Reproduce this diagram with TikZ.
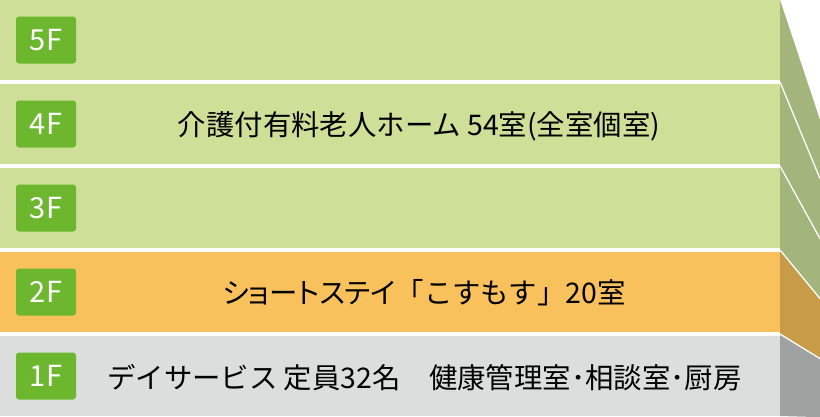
\documentclass[tikz,border=0pt]{standalone}
\usepackage{fontspec}
\newfontfamily\jpfont{Noto Sans CJK JP}
\newfontfamily\jppalt[RawFeature=+palt]{Noto Sans CJK JP}
\usetikzlibrary{calc}

\definecolor{greenfront}{HTML}{CEDF98}
\definecolor{greenside}{HTML}{A3B57B}
\definecolor{orangefront}{HTML}{F9C15C}
\definecolor{orangeside}{HTML}{C89B48}
\definecolor{grayfront}{HTML}{DCDEDD}
\definecolor{grayside}{HTML}{A0A2A1}
\definecolor{taggreen}{HTML}{6CB72E}

\tikzset{
  floortag/.style={fill=taggreen, rounded corners=3pt, minimum width=60pt,
    minimum height=47pt, inner sep=0pt, text=white,
    font=\jpfont\fontsize{29}{30}\selectfont},
  floortext/.style={inner sep=0pt, font=\jpfont\fontsize{28.4}{30}\selectfont},
  sideline/.style={white, line width=1.3pt}
}

\begin{document}
\begin{tikzpicture}[x=1pt,y=-1pt]
\useasboundingbox (0,0) rectangle (820,416);
\fill[white] (0,0) rectangle (820,416);
% where the side walls meet
\coordinate (vp) at (920,420);

% the front of each floor
\foreach \f/\t/\c in {5/0/green,4/84/green,3/168/green,2/252/orange,1/336/gray}
    {\fill[\c front] (0,\t) rectangle (780,\t+80);
     \node[floortag] (tag\f) at (46,\t+40) {\f F};};

% the side wall
\foreach \a/\b/\c in {0/82/green,82/166/green,166/250/green,250/334/orange,334/416/gray}
    {\fill[\c side] (780,\a) -- ($(780,\a)!2/7!(vp)$)
        -- ($(780,\b)!2/7!(vp)$) -- (780,\b) -- cycle;};
\foreach \a in {82,166,250,334}
    {\draw[sideline] (780,\a) -- ($(780,\a)!2/7!(vp)$);};

% the rooms
\node[floortext] (txt4) at (419,126) {介護付有料老人ホーム 54室(全室個室)};
\node[floortext] (txt2) at (424,293)
    {{\jppalt ショートステイ}「こすもす」20室};
\node[floortext, anchor=west] (txt1) at (107,378)
    {デイサービス 定員32名　健康管理室･相談室･厨房};
\end{tikzpicture}
\end{document}
